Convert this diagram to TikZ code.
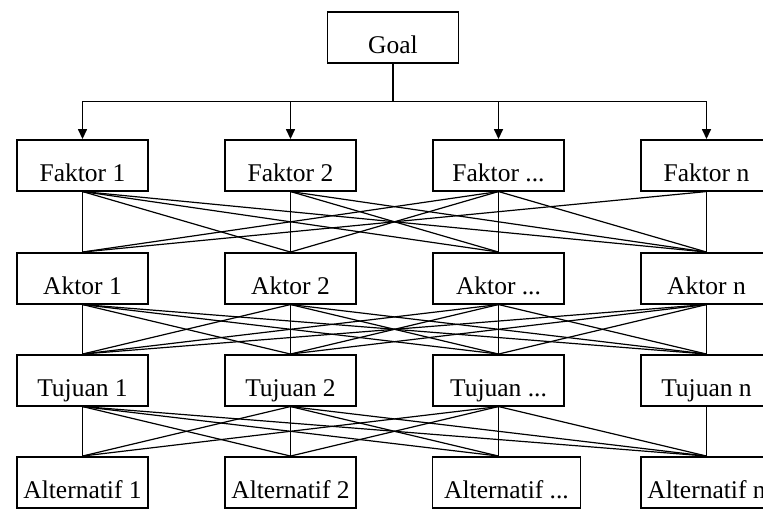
\documentclass[tikz,border=0pt]{standalone}
\usepackage{fontspec}
\setmainfont{Liberation Serif}
\usepackage{tikz}
\usetikzlibrary{arrows.meta}

\begin{document}
\begin{tikzpicture}[x=1pt,y=1pt,>={Triangle[length=10pt,width=9pt]},node distance=208pt,
                    line width=1.2pt]
  \tikzstyle{box}=[draw=black,line width=1.5pt,minimum width=131pt,minimum height=51pt,
                   inner sep=2pt,text height=32pt,text depth=0pt,
                   font=\fontsize{25.5}{30}\selectfont]

  \path[use as bounding box,fill=white] (-82.5,-347.7) rectangle (680.5,165.3);

  \node[box] (G)  at (310.5,127.8) {Goal};

  \node[box] (F1)                  {Faktor 1};
  \node[box] (F2) [right of=F1]    {Faktor 2};
  \node[box] (F3) [right of=F2]    {Faktor ...};
  \node[box] (F4) [right of=F3]    {Faktor n};

  \node[box] (A1) [node distance=113pt,below of=F1] {Aktor 1};
  \node[box] (A2) [right of=A1]    {Aktor 2};
  \node[box] (A3) [right of=A2]    {Aktor ...};
  \node[box] (A4) [right of=A3]    {Aktor n};

  \node[box] (T1) [node distance=102pt,below of=A1] {Tujuan 1};
  \node[box] (T2) [right of=T1]    {Tujuan 2};
  \node[box] (T3) [right of=T2]    {Tujuan ...};
  \node[box] (T4) [right of=T3]    {Tujuan n};

  \node[box] (L1) [node distance=102pt,below of=T1] {Alternatif 1};
  \node[box] (L2) [right of=L1]    {Alternatif 2};
  \node[box,minimum width=148pt] (L3) [node distance=102pt,below of=T3,xshift=8pt] {Alternatif ...};
  \node[box] (L4) [node distance=102pt,below of=T4] {Alternatif n};

  \node[coordinate] (hub) [node distance=64pt,below of=G] {};

  % goal to faktor
  \draw[line width=2.5pt] (G.south) -- (hub);
  \draw[line width=1.5pt] (F1 |- hub) -- (F4 |- hub);
  \path (F1 |- hub) edge[->,line width=1.5pt] (F1.north)
        (F2 |- hub) edge[->,line width=1.5pt] (F2.north)
        (F3 |- hub) edge[->,line width=1.5pt] (F3.north)
        (F4 |- hub) edge[->,line width=1.5pt] (F4.north);

  % faktor to aktor
  \path (F1.south) edge (A1.north)  (F1.south) edge (A2.north)
        (F1.south) edge (A3.north)  (F1.south) edge (A4.north)
        (F2.south) edge (A2.north)  (F2.south) edge (A3.north)
        (F2.south) edge (A4.north)
        (F3.south) edge (A1.north)  (F3.south) edge (A2.north)
        (F3.south) edge (A3.north)  (F3.south) edge (A4.north)
        (F4.south) edge (A1.north)  (F4.south) edge (A4.north);

  % aktor to tujuan
  \path (A1.south) edge (T1.north)  (A1.south) edge (T2.north)
        (A1.south) edge (T3.north)  (A1.south) edge (T4.north)
        (A2.south) edge (T1.north)  (A2.south) edge (T2.north)
        (A2.south) edge (T3.north)  (A2.south) edge (T4.north)
        (A3.south) edge (T1.north)  (A3.south) edge (T2.north)
        (A3.south) edge (T3.north)  (A3.south) edge (T4.north)
        (A4.south) edge (T1.north)  (A4.south) edge (T2.north)
        (A4.south) edge (T3.north)  (A4.south) edge (T4.north);

  % tujuan to alternatif
  \path (T1.south) edge (L1.north)  (T1.south) edge (L2.north)
        (T1.south) edge ([xshift=-8pt]L3.north)  (T1.south) edge (L4.north)
        (T2.south) edge (L1.north)  (T2.south) edge (L2.north)
        (T2.south) edge ([xshift=-8pt]L3.north)  (T2.south) edge (L4.north)
        (T3.south) edge (L1.north)  (T3.south) edge (L2.north)
        (T3.south) edge ([xshift=-8pt]L3.north)  (T3.south) edge (L4.north)
        (T4.south) edge (L4.north);
\end{tikzpicture}
\end{document}
